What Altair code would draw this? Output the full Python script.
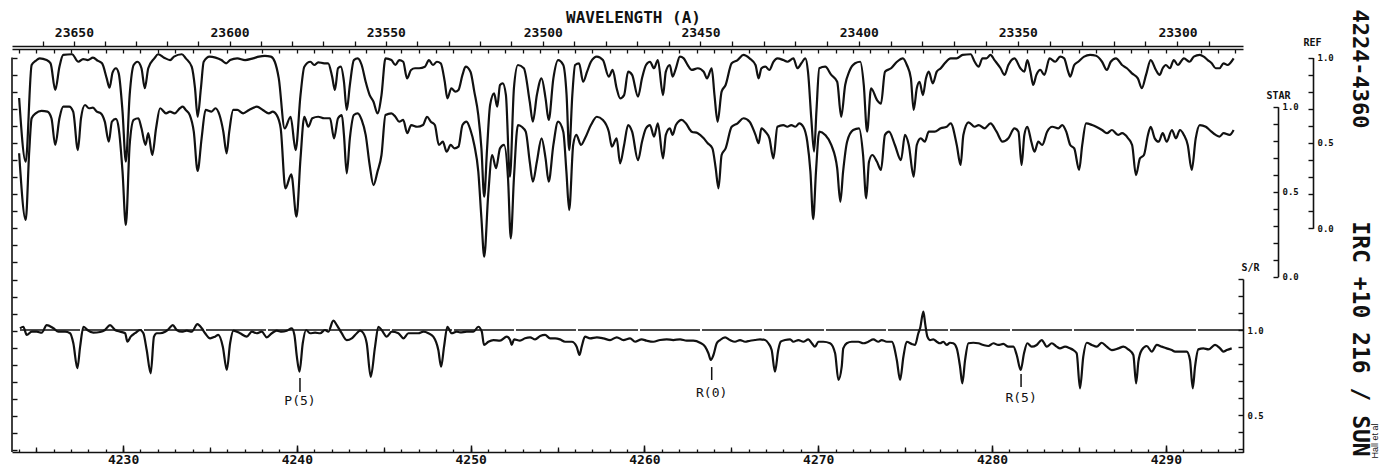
import altair as alt
import pandas as pd

# ---------------- data ----------------
REF_K = [4224.02,4224.40,4224.74,4224.97,4225.20,4225.60,4225.83,4226.10,4226.34,4226.56,4227.06,4227.43,4227.70,4227.97,4228.27,4228.56,4228.79,4229.06,4229.22,4229.40,4229.59,4229.75,4229.97,4230.16,4230.38,4230.61,4230.83,4231.06,4231.25,4231.45,4231.80,4232.02,4232.36,4232.71,4232.93,4233.38,4233.61,4233.95,4234.14,4234.29,4234.48,4234.64,4234.98,4235.32,4235.66,4235.93,4236.16,4236.57,4237.02,4237.48,4237.82,4238.16,4238.50,4238.73,4238.96,4239.30,4239.64,4239.93,4240.21,4240.43,4240.78,4241.00,4241.23,4241.57,4241.80,4242.03,4242.19,4242.37,4242.53,4242.71,4242.87,4243.05,4243.28,4243.50,4243.73,4243.96,4244.19,4244.41,4244.64,4244.87,4245.10,4245.44,4245.67,4245.89,4246.12,4246.34,4246.57,4246.80,4247.03,4247.37,4247.60,4247.83,4248.06,4248.28,4248.51,4248.66,4248.89,4249.12,4249.30,4249.53,4249.71,4249.99,4250.21,4250.44,4250.62,4250.78,4250.94,4251.12,4251.35,4251.53,4251.69,4251.85,4252.03,4252.26,4252.49,4252.72,4253.06,4253.40,4253.58,4253.81,4254.08,4254.31,4254.49,4254.76,4255.03,4255.33,4255.52,4255.67,4255.85,4256.01,4256.24,4256.47,4256.70,4256.92,4257.26,4257.61,4257.95,4258.17,4258.40,4258.60,4258.83,4259.06,4259.29,4259.63,4259.86,4260.09,4260.32,4260.55,4260.77,4261.07,4261.23,4261.46,4261.62,4261.81,4262.04,4262.26,4262.49,4262.72,4263.07,4263.41,4263.60,4263.87,4264.03,4264.21,4264.44,4264.67,4265.02,4265.36,4265.70,4266.05,4266.39,4266.57,4266.73,4266.96,4267.19,4267.42,4267.65,4267.99,4268.22,4268.57,4268.80,4269.03,4269.26,4269.41,4269.60,4269.76,4269.90,4270.06,4270.40,4270.75,4271.09,4271.32,4271.55,4271.78,4272.12,4272.42,4272.62,4272.81,4273.04,4273.38,4273.61,4273.84,4274.19,4274.53,4274.87,4275.10,4275.33,4275.49,4275.67,4275.83,4276.02,4276.20,4276.36,4276.59,4276.82,4277.05,4277.28,4277.62,4277.96,4278.31,4278.77,4279.00,4279.23,4279.45,4279.68,4279.91,4280.14,4280.49,4280.72,4280.94,4281.29,4281.63,4281.86,4282.03,4282.21,4282.37,4282.55,4282.78,4283.01,4283.31,4283.64,4283.92,4284.15,4284.38,4284.50,4284.73,4284.96,4285.30,4285.64,4285.99,4286.33,4286.61,4286.83,4287.13,4287.48,4287.76,4288.05,4288.39,4288.62,4288.86,4289.13,4289.43,4289.64,4289.82,4290.00,4290.23,4290.46,4290.69,4291.04,4291.37,4291.61,4291.95,4292.18,4292.41,4292.64,4292.87,4293.09,4293.32,4293.55,4293.90]
REF_V = [0.763,0.390,0.956,0.980,0.995,0.985,0.966,0.810,0.946,1.015,1.019,0.975,0.991,0.985,0.999,0.980,0.966,0.878,0.823,0.913,0.937,0.907,0.683,0.390,0.780,0.956,0.975,0.937,0.820,0.937,0.995,1.019,0.999,0.985,1.005,1.019,0.995,0.946,0.820,0.653,0.820,0.975,1.005,0.999,0.985,0.966,0.985,0.995,0.985,0.995,1.005,1.009,1.005,0.975,0.878,0.585,0.653,0.458,0.780,0.946,0.975,0.956,0.972,0.966,0.966,0.888,0.810,0.937,0.946,0.858,0.693,0.839,0.985,0.995,0.956,0.858,0.780,0.741,0.673,0.780,0.995,0.985,0.956,0.985,0.975,0.878,0.927,0.937,0.937,0.946,0.985,0.956,0.975,0.966,0.858,0.761,0.820,0.800,0.810,0.898,0.946,0.917,0.800,0.663,0.468,0.185,0.458,0.722,0.790,0.712,0.839,0.849,0.780,0.302,0.820,0.956,0.937,0.741,0.624,0.780,0.878,0.761,0.634,0.878,0.985,0.956,0.780,0.458,0.780,0.956,0.966,0.858,0.917,0.975,1.005,0.985,0.888,0.927,0.820,0.761,0.780,0.917,0.898,0.771,0.878,0.956,0.975,0.937,0.985,0.780,0.917,0.956,0.888,0.937,1.005,0.995,0.956,0.927,0.937,0.917,0.878,0.937,0.780,0.624,0.800,0.839,0.966,0.985,1.015,0.995,0.956,0.878,0.937,0.946,0.927,0.975,0.995,0.985,0.975,0.995,0.937,0.966,0.995,0.917,0.644,0.449,0.693,0.937,0.946,0.898,0.858,0.653,0.839,0.917,0.966,0.975,0.839,0.566,0.820,0.751,0.730,0.917,0.937,0.975,0.995,0.956,0.878,0.693,0.820,0.858,0.780,0.878,0.917,0.849,0.917,0.937,0.966,0.995,0.995,1.015,1.019,0.975,0.946,0.995,0.995,1.015,0.985,0.937,0.898,0.956,0.995,0.937,0.917,0.985,0.917,0.839,0.898,0.927,0.898,0.995,0.975,1.005,0.995,0.917,0.888,0.956,0.975,1.005,1.015,1.010,0.975,0.927,0.975,0.995,0.956,0.937,0.907,0.878,0.820,0.898,0.985,0.927,0.898,0.937,0.956,0.937,0.985,0.956,0.995,0.975,1.005,1.015,1.005,0.985,0.966,0.937,0.937,0.966,0.956,0.995]

STAR_K = [4224.02,4224.40,4224.60,4224.74,4224.97,4225.31,4225.65,4225.88,4226.10,4226.34,4226.56,4226.90,4227.13,4227.40,4227.58,4227.81,4228.04,4228.27,4228.49,4228.72,4228.95,4229.18,4229.36,4229.59,4229.75,4229.97,4230.16,4230.38,4230.61,4230.88,4231.06,4231.29,4231.45,4231.68,4231.90,4232.13,4232.47,4232.70,4232.97,4233.27,4233.43,4233.61,4233.84,4234.07,4234.29,4234.52,4234.75,4235.09,4235.32,4235.55,4235.77,4235.96,4236.11,4236.34,4236.57,4236.91,4237.25,4237.70,4238.04,4238.39,4238.61,4238.84,4239.07,4239.34,4239.68,4239.98,4240.21,4240.43,4240.66,4240.89,4241.23,4241.57,4241.91,4242.14,4242.37,4242.59,4242.71,4242.87,4243.05,4243.28,4243.50,4243.73,4243.96,4244.19,4244.41,4244.64,4244.87,4245.10,4245.44,4245.67,4245.89,4246.12,4246.35,4246.58,4246.92,4247.26,4247.49,4247.71,4247.94,4248.17,4248.40,4248.62,4248.85,4249.07,4249.30,4249.53,4249.76,4249.99,4250.21,4250.44,4250.62,4250.78,4251.01,4251.24,4251.46,4251.69,4251.92,4252.15,4252.31,4252.49,4252.72,4252.94,4253.17,4253.40,4253.58,4253.81,4254.08,4254.31,4254.49,4254.76,4255.03,4255.33,4255.51,4255.67,4255.90,4256.08,4256.35,4256.58,4256.92,4257.26,4257.61,4257.95,4258.13,4258.40,4258.60,4258.83,4259.06,4259.29,4259.63,4259.86,4260.09,4260.32,4260.55,4260.77,4261.07,4261.23,4261.46,4261.62,4261.81,4262.15,4262.38,4262.72,4263.07,4263.41,4263.64,4263.91,4264.10,4264.26,4264.44,4264.67,4265.02,4265.36,4265.70,4266.05,4266.39,4266.57,4266.73,4266.96,4267.19,4267.42,4267.65,4267.99,4268.22,4268.45,4268.68,4268.91,4269.14,4269.37,4269.55,4269.71,4269.87,4270.06,4270.40,4270.75,4271.09,4271.27,4271.43,4271.66,4272.01,4272.35,4272.58,4272.76,4272.92,4273.11,4273.38,4273.61,4273.84,4274.07,4274.41,4274.76,4274.99,4275.21,4275.49,4275.67,4275.90,4276.13,4276.36,4276.70,4277.05,4277.39,4277.62,4277.97,4278.19,4278.35,4278.65,4279.00,4279.23,4279.57,4279.91,4280.26,4280.60,4280.94,4281.29,4281.52,4281.70,4281.86,4282.03,4282.26,4282.44,4282.66,4282.89,4283.17,4283.47,4283.81,4284.04,4284.27,4284.50,4284.73,4285.01,4285.19,4285.41,4285.76,4285.99,4286.33,4286.61,4286.90,4287.25,4287.48,4287.83,4288.06,4288.28,4288.51,4288.74,4288.97,4289.13,4289.36,4289.59,4289.82,4290.05,4290.35,4290.58,4290.81,4291.04,4291.26,4291.49,4291.72,4291.95,4292.30,4292.52,4292.87,4293.09,4293.32,4293.67,4293.90]
STAR_V = [0.726,0.334,0.735,0.932,0.961,0.975,0.971,0.932,0.775,0.932,1.000,1.000,0.971,0.745,0.932,1.010,0.991,0.994,0.971,0.961,0.912,0.794,0.912,0.928,0.873,0.618,0.304,0.775,0.922,0.932,0.873,0.775,0.844,0.716,0.873,0.991,0.961,0.971,0.961,0.991,1.000,0.981,0.951,0.853,0.622,0.814,0.981,0.971,0.991,0.951,0.853,0.726,0.853,0.981,0.981,0.961,0.981,1.000,0.981,0.961,0.971,0.951,0.873,0.520,0.602,0.353,0.696,0.941,0.882,0.932,0.941,0.932,0.932,0.814,0.932,0.951,0.834,0.608,0.814,0.951,0.961,0.922,0.834,0.657,0.539,0.618,0.716,0.951,0.961,0.941,0.912,0.922,0.844,0.892,0.882,0.892,0.941,0.912,0.892,0.775,0.794,0.735,0.775,0.755,0.765,0.892,0.912,0.863,0.775,0.618,0.344,0.118,0.481,0.716,0.638,0.755,0.775,0.579,0.226,0.579,0.892,0.882,0.853,0.676,0.559,0.676,0.814,0.696,0.559,0.775,0.912,0.853,0.618,0.392,0.775,0.834,0.775,0.814,0.892,0.941,0.922,0.853,0.765,0.814,0.667,0.775,0.892,0.853,0.686,0.794,0.873,0.892,0.824,0.902,0.696,0.834,0.873,0.834,0.892,0.922,0.902,0.853,0.844,0.814,0.785,0.755,0.638,0.520,0.716,0.755,0.882,0.902,0.932,0.912,0.834,0.785,0.873,0.853,0.814,0.696,0.882,0.892,0.882,0.892,0.882,0.902,0.882,0.794,0.618,0.339,0.618,0.853,0.834,0.775,0.638,0.441,0.618,0.794,0.863,0.873,0.716,0.461,0.676,0.716,0.676,0.628,0.834,0.853,0.775,0.686,0.834,0.775,0.588,0.775,0.814,0.794,0.853,0.853,0.873,0.882,0.902,0.775,0.657,0.834,0.908,0.882,0.892,0.873,0.902,0.853,0.794,0.814,0.873,0.853,0.657,0.834,0.882,0.794,0.735,0.794,0.775,0.853,0.882,0.873,0.892,0.853,0.775,0.755,0.628,0.775,0.902,0.892,0.882,0.863,0.844,0.863,0.834,0.844,0.814,0.775,0.598,0.696,0.716,0.834,0.882,0.814,0.794,0.844,0.794,0.863,0.814,0.863,0.834,0.775,0.628,0.814,0.892,0.882,0.863,0.834,0.824,0.844,0.834,0.863]

SR_K = [4224.07,4224.26,4224.46,4224.75,4225.03,4225.32,4225.61,4225.99,4226.28,4226.66,4226.95,4227.14,4227.37,4227.53,4227.72,4227.95,4228.29,4228.68,4228.96,4229.25,4229.54,4229.83,4230.12,4230.25,4230.44,4230.69,4230.98,4231.17,4231.36,4231.59,4231.78,4231.94,4232.13,4232.42,4232.61,4232.86,4233.09,4233.38,4233.67,4233.95,4234.28,4234.53,4234.72,4235.01,4235.29,4235.48,4235.74,4235.97,4236.16,4236.35,4236.73,4237.12,4237.41,4237.69,4237.98,4238.27,4238.56,4238.84,4239.13,4239.42,4239.71,4239.86,4240.00,4240.15,4240.34,4240.53,4240.76,4241.05,4241.34,4241.62,4241.81,4242.10,4242.30,4242.58,4242.87,4243.16,4243.45,4243.64,4243.83,4244.02,4244.25,4244.50,4244.69,4244.88,4245.17,4245.46,4245.84,4246.13,4246.42,4246.70,4246.99,4247.28,4247.57,4247.85,4248.14,4248.30,4248.47,4248.66,4248.91,4249.20,4249.39,4249.78,4250.16,4250.44,4250.64,4250.77,4251.02,4251.31,4251.69,4252.08,4252.27,4252.36,4252.50,4252.84,4253.13,4253.42,4253.71,4254.00,4254.28,4254.57,4254.86,4255.14,4255.43,4255.82,4256.10,4256.26,4256.39,4256.58,4256.87,4257.26,4257.64,4258.02,4258.41,4258.79,4259.17,4259.46,4259.84,4260.13,4260.51,4260.90,4261.28,4261.66,4262.05,4262.43,4262.81,4263.20,4263.49,4263.68,4263.82,4263.97,4264.16,4264.35,4264.64,4264.92,4265.21,4265.50,4265.79,4266.08,4266.36,4266.65,4266.94,4267.13,4267.32,4267.51,4267.70,4267.84,4268.09,4268.38,4268.57,4268.86,4269.14,4269.43,4269.63,4269.81,4270.01,4270.29,4270.68,4270.97,4271.16,4271.35,4271.44,4271.64,4271.93,4272.31,4272.59,4272.88,4273.17,4273.46,4273.65,4273.94,4274.23,4274.52,4274.71,4274.90,4275.09,4275.38,4275.57,4275.76,4275.86,4276.05,4276.15,4276.28,4276.43,4276.62,4276.82,4277.01,4277.20,4277.39,4277.58,4277.77,4277.97,4278.16,4278.29,4278.45,4278.64,4278.92,4279.21,4279.50,4279.79,4280.08,4280.36,4280.65,4280.94,4281.23,4281.42,4281.65,4281.84,4282.03,4282.28,4282.57,4282.86,4283.15,4283.44,4283.72,4283.91,4284.20,4284.49,4284.68,4284.87,4285.06,4285.25,4285.45,4285.74,4286.02,4286.31,4286.60,4286.89,4287.27,4287.56,4287.84,4288.13,4288.29,4288.42,4288.61,4288.90,4289.19,4289.48,4289.76,4290.05,4290.34,4290.53,4290.91,4291.20,4291.39,4291.55,4291.68,4291.87,4292.16,4292.45,4292.83,4293.12,4293.31,4293.51,4293.79]
SR_V = [1.010,1.019,0.971,0.990,0.990,0.984,1.029,1.010,0.990,0.990,0.981,0.922,0.775,0.902,1.019,1.000,0.984,0.988,1.000,1.029,1.000,0.990,0.981,0.931,0.961,0.981,1.000,0.981,0.882,0.745,0.961,0.981,0.981,0.990,1.004,1.029,1.000,0.990,0.996,0.990,1.035,1.010,0.981,0.951,0.961,0.971,0.902,0.765,0.922,0.996,0.981,0.961,0.990,0.981,0.990,0.957,0.981,0.996,0.990,0.996,1.010,0.971,0.843,0.755,0.922,1.000,0.981,0.984,0.981,1.000,0.990,1.055,1.029,0.981,0.941,0.951,0.981,0.996,0.981,0.922,0.725,0.902,1.019,1.000,0.961,0.990,0.981,0.951,0.981,0.981,0.981,0.990,0.981,0.961,0.882,0.784,0.902,1.019,0.981,0.990,0.986,0.990,0.990,1.019,0.990,0.912,0.931,0.941,0.937,0.961,0.941,0.912,0.945,0.937,0.951,0.957,0.945,0.965,0.971,0.951,0.951,0.945,0.931,0.931,0.902,0.853,0.902,0.961,0.951,0.957,0.951,0.941,0.957,0.941,0.951,0.931,0.945,0.937,0.931,0.941,0.945,0.941,0.945,0.937,0.937,0.925,0.902,0.863,0.824,0.853,0.922,0.941,0.957,0.941,0.931,0.941,0.931,0.937,0.941,0.945,0.941,0.922,0.882,0.755,0.882,0.931,0.941,0.945,0.931,0.941,0.931,0.945,0.922,0.902,0.931,0.931,0.922,0.863,0.706,0.784,0.892,0.922,0.931,0.931,0.922,0.931,0.945,0.931,0.941,0.931,0.931,0.824,0.706,0.843,0.931,0.918,0.912,0.981,1.010,1.108,1.039,0.961,0.941,0.945,0.931,0.922,0.931,0.912,0.925,0.922,0.892,0.784,0.686,0.824,0.922,0.925,0.922,0.912,0.906,0.922,0.912,0.918,0.902,0.902,0.853,0.765,0.863,0.922,0.902,0.912,0.941,0.902,0.922,0.902,0.892,0.902,0.892,0.882,0.863,0.657,0.843,0.925,0.912,0.902,0.925,0.902,0.882,0.892,0.902,0.886,0.853,0.686,0.814,0.882,0.906,0.873,0.912,0.902,0.892,0.882,0.873,0.873,0.873,0.824,0.657,0.784,0.886,0.892,0.886,0.912,0.892,0.873,0.882,0.892]

LINE_NAMES = ["P(5)", "R(0)", "R(5)"]
LINE_K = [4240.18, 4263.87, 4281.67]
LINE_TOP = [0.718, 0.782, 0.741]
LINE_BOTTOM = [0.635, 0.706, 0.665]
LINE_LABEL = [0.585, 0.629, 0.600]

BOTTOM_LABELS = [4230, 4240, 4250, 4260, 4270, 4280, 4290]
TOP_WAVELENGTHS = list(range(23290, 23661, 10))   # Angstrom, labelled every 50
N_AIR = 1.000274
UNIT_TICKS = [0.0, 0.1, 0.2, 0.3, 0.4, 0.5, 0.6, 0.7, 0.8, 0.9, 1.0]
SR_TICKS = [0.3, 0.4, 0.5, 0.6, 0.7, 0.8, 0.9, 1.0, 1.1, 1.2, 1.3]
TITLE_RANGE = "4224-4360"
TITLE_OBJECT = "IRC +10 216 / SUN"
CREDIT = "Hall et al"

# ---------------- layout ----------------
W, H = 1231, 405
K_MIN, K_MAX = 4223.61, 4294.44
INK = "#111111"
FONT = "DejaVu Sans Mono"

xs = alt.Scale(domain=[K_MIN, K_MAX], nice=False, zero=False)
ref_scale = alt.Scale(domain=[0, 1], range=[181.3, 10.5], nice=False, zero=False)
star_scale = alt.Scale(domain=[0, 1], range=[229.7, 59.7], nice=False, zero=False)
sr_scale = alt.Scale(domain=[0.28, 1.30], range=[405.4, 232.0], nice=False, zero=False)
left_scale = alt.Scale(domain=[-1.3097, 1.0615], nice=False, zero=False)

unit_label = "(datum.value == 0 || datum.value == 0.5 || datum.value == 1) ? format(datum.value, '.1f') : ''"
sr_label = "(abs(datum.value - 1) < 0.001 || abs(datum.value - 0.5) < 0.001) ? format(datum.value, '.1f') : ''"


def side_axis(offset, values, expr, title, tx, ty):
    return alt.Axis(orient="left", offset=offset, values=values, tickSize=5, tickWidth=1.4,
                    domainWidth=1.6, labelExpr=expr, labelAlign="left", labelPadding=-9,
                    labelBaseline="middle", labelFontSize=9, labelOverlap=False, labelFlush=False,
                    grid=False, title=title, titleAngle=0, titleX=tx, titleY=ty,
                    titleAlign="center", titleBaseline="middle", titleFontSize=10)


ref_df = pd.DataFrame({"k": REF_K, "v": REF_V})
star_df = pd.DataFrame({"k": STAR_K, "v": STAR_V})
sr_df = pd.DataFrame({"k": SR_K, "v": SR_V})
edge_df = pd.DataFrame({"k": [K_MIN, K_MAX]})

line_kw = dict(color=INK, strokeWidth=2.2, interpolate="monotone", clip=False)

ref = alt.Chart(ref_df).mark_line(**line_kw).encode(
    x=alt.X("k:Q", scale=xs, axis=None),
    y=alt.Y("v:Q", scale=ref_scale, axis=side_axis(-1301, UNIT_TICKS, unit_label, "REF", -1, -5)),
)
star = alt.Chart(star_df).mark_line(**line_kw).encode(
    x=alt.X("k:Q", scale=xs, axis=None),
    y=alt.Y("v:Q", scale=star_scale, axis=side_axis(-1266, UNIT_TICKS, unit_label, "STAR", 0, 48)),
)
sr = alt.Chart(sr_df).mark_line(**line_kw).encode(
    x=alt.X("k:Q", scale=xs, axis=None),
    y=alt.Y("v:Q", scale=sr_scale, axis=side_axis(-W, SR_TICKS, sr_label, "S/R", 7, 220)),
)

unity = alt.Chart(pd.DataFrame({"k": [SR_K[0]], "k2": [K_MAX], "v": [1.0]})).mark_rule(
    color=INK, strokeWidth=1.4, strokeDash=[60, 2], clip=False
).encode(
    x=alt.X("k:Q", scale=xs, axis=None), x2="k2:Q",
    y=alt.Y("v:Q", scale=sr_scale, axis=None),
)

ids_df = pd.DataFrame({"name": LINE_NAMES, "k": LINE_K, "top": LINE_TOP,
                       "bottom": LINE_BOTTOM, "lab": LINE_LABEL})
id_ticks = alt.Chart(ids_df).mark_rule(color=INK, strokeWidth=1.5, clip=False).encode(
    x=alt.X("k:Q", scale=xs, axis=None),
    y=alt.Y("top:Q", scale=sr_scale, axis=None), y2="bottom:Q",
)
id_text = alt.Chart(ids_df).mark_text(font=FONT, fontSize=13, color=INK, baseline="middle",
                                      clip=False).encode(
    x=alt.X("k:Q", scale=xs, axis=None),
    y=alt.Y("lab:Q", scale=sr_scale, axis=None),
    text="name:N",
)

left_frame = alt.Chart(pd.DataFrame({"k": [K_MIN], "a": [1.0], "b": [-1.3097]})).mark_rule(
    color=INK, strokeWidth=1.6, clip=False
).encode(
    x=alt.X("k:Q", scale=xs, axis=None),
    y=alt.Y("a:Q", scale=left_scale,
            axis=alt.Axis(orient="right", offset=-W, values=[round(1 - 0.1 * i, 1) for i in range(24)],
                          tickSize=5, tickWidth=1.4, labels=False, domain=False, grid=False, title=None)),
    y2="b:Q",
)


def x_axis_layer(axis):
    return alt.Chart(edge_df).mark_point(opacity=0).encode(x=alt.X("k:Q", scale=xs, axis=axis))


bottom_minor = x_axis_layer(alt.Axis(orient="top", offset=-H, values=list(range(4224, 4295)),
                                     tickSize=3, tickWidth=1.3, labels=False, domain=True,
                                     domainWidth=1.6, grid=False, title=None))
bottom_mid = x_axis_layer(alt.Axis(orient="top", offset=-H, values=list(range(4225, 4295, 5)),
                                   tickSize=5, tickWidth=1.3, labels=False, domain=False,
                                   grid=False, title=None))
bottom_major = x_axis_layer(alt.Axis(orient="top", offset=-H, values=BOTTOM_LABELS,
                                     tickSize=7, tickWidth=1.5, labels=False, domain=False,
                                     grid=False, title=None))
bottom_labels = x_axis_layer(alt.Axis(orient="bottom", values=BOTTOM_LABELS, ticks=False,
                                      domain=False, format="d", labelPadding=1, labelFontSize=13,
                                      labelOverlap=False, labelFlush=False, grid=False, title=None))

wl_ticks = [1e8 / (lam * N_AIR) for lam in TOP_WAVELENGTHS]
wl_expr = (f"(round(1e8/(datum.value*{N_AIR})) % 50 == 0) ? "
           f"format(round(1e8/(datum.value*{N_AIR})), 'd') : ''")
top_wavelength = x_axis_layer(alt.Axis(orient="top", offset=1, values=wl_ticks, tickSize=5,
                                       tickWidth=1.3, labelExpr=wl_expr, labelPadding=2,
                                       labelFontSize=13, labelOverlap=False, labelFlush=False,
                                       domain=True, domainWidth=1.4, grid=False,
                                       title="WAVELENGTH (A)", titleX=621, titleY=-29,
                                       titleAlign="center", titleBaseline="middle",
                                       titleFontSize=16, titleAngle=0))
top_wavenumber = x_axis_layer(alt.Axis(orient="bottom", offset=-(H - 2),
                                       values=list(range(4224, 4295)), tickSize=4, tickWidth=1.3,
                                       labels=False, domain=True, domainWidth=1.4, grid=False,
                                       title=None))

title_range = alt.Chart(pd.DataFrame({"t": [TITLE_RANGE]})).mark_text(
    font=FONT, fontSize=22, fontWeight="bold", angle=90, color=INK,
    align="center", baseline="middle", clip=False
).encode(text="t:N", x=alt.value(1348), y=alt.value(22))
title_object = alt.Chart(pd.DataFrame({"t": [TITLE_OBJECT]})).mark_text(
    font=FONT, fontSize=23, fontWeight="bold", angle=90, color=INK,
    align="center", baseline="middle", clip=False
).encode(text="t:N", x=alt.value(1348), y=alt.value(292))
credit = alt.Chart(pd.DataFrame({"t": [CREDIT]})).mark_text(
    font="Liberation Sans", fontSize=9, angle=270, color=INK,
    align="center", baseline="middle", clip=False
).encode(text="t:N", x=alt.value(1363), y=alt.value(394))

chart = alt.layer(
    ref, star, sr, unity, id_ticks, id_text, left_frame,
    bottom_minor, bottom_mid, bottom_major, bottom_labels,
    top_wavelength, top_wavenumber,
    title_range, title_object, credit,
).resolve_scale(
    x="independent", y="independent"
).properties(
    width=W, height=H,
    padding={"left": 4, "top": 39, "right": 136, "bottom": 13},
    autosize=alt.AutoSizeParams(type="none"),
    background="white",
).configure_view(
    stroke=None
).configure_axis(
    labelFont=FONT, titleFont=FONT, labelColor=INK, titleColor=INK,
    domainColor=INK, tickColor=INK, labelFontWeight="bold", titleFontWeight="bold",
)

chart.save("out.html", embed_options={"renderer": "svg", "actions": False})
